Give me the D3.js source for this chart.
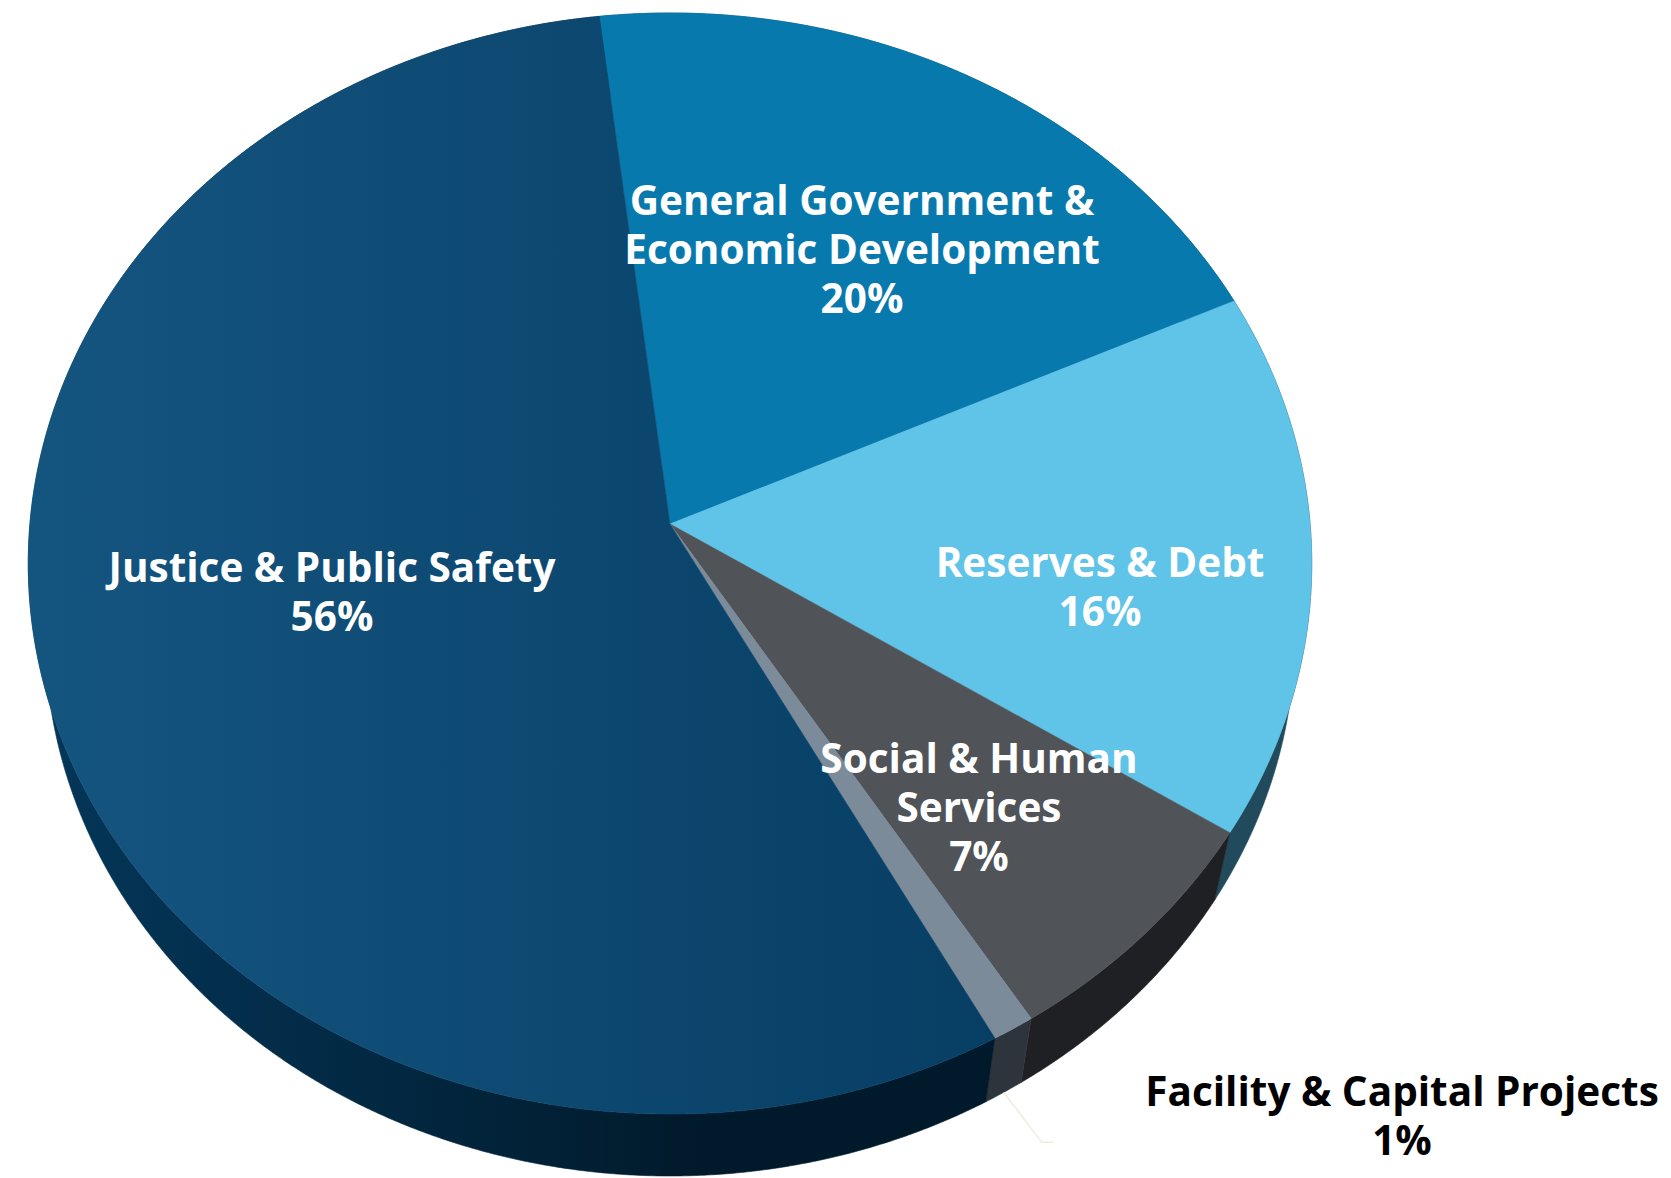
<!DOCTYPE html>
<html>
<head>
<meta charset="utf-8">
<script src="https://cdn.jsdelivr.net/npm/d3@7"></script>
<style>
  html, body { margin: 0; padding: 0; background: #fff; }
  svg { display: block; }
</style>
</head>
<body>
<script>

// slices in clockwise order, starting just left of 12 o'clock
var categories = ["General Government & Economic Development", "Reserves & Debt",
                  "Social & Human Services", "Facility & Capital Projects",
                  "Justice & Public Safety"];
var values = [20, 16, 7, 1, 56];
var labelLines = [["General Government &", "Economic Development"],
                  ["Reserves & Debt"],
                  ["Social & Human", "Services"],
                  ["Facility & Capital Projects"],
                  ["Justice & Public Safety"]];

var topColors  = ["#0779ad", "#60c3e8", "#505458", "#7b8b9a", "url(#justiceTop)"];
var sideColors = ["#064f73", "#214b5d", "#1f2023", "#2d343c", "url(#justiceSide)"];
var labelColors = ["#fff", "#fff", "#fff", "#000", "#fff"];

// where each label block sits (first baseline)
var labelPos = [[862, 215], [1100, 577], [979, 773], [1402, 1106], [332, 582]];

var W = 1671, H = 1178;

// fake perspective camera for the tilted disc
var cx = 670, cy = 524;
var S = 4615, D = 7.21;
var tilt = 58.83 * Math.PI / 180;
var depth = 0.2265;
var sn = Math.sin(tilt), cs = Math.cos(tilt);
var startAngle = -6.8 * Math.PI / 180;

function proj(t, r, yv) {
    var x = r * Math.sin(t), z = -r * Math.cos(t);
    var d = D - z * cs - yv * sn;
    return [cx + S * x / d, cy + S * (z * sn - yv * cs) / d];
}

function rim(a0, a1, yv) {
    var n = Math.max(2, Math.ceil((a1 - a0) / 0.005));
    var pts = [];
    for (var i = 0; i <= n; i++) {
        pts.push(proj(a0 + (a1 - a0) * i / n, 1, yv));
    }
    return pts;
}

var svg = d3.select("body").append("svg").attr("width", W).attr("height", H);

var defs = svg.append("defs");
var g1 = defs.append("linearGradient").attr("id", "justiceTop")
    .attr("gradientUnits", "userSpaceOnUse")
    .attr("x1", 30).attr("y1", 0).attr("x2", 1000).attr("y2", 0);
g1.append("stop").attr("offset", 0).attr("stop-color", "#145580");
g1.append("stop").attr("offset", 1).attr("stop-color", "#073e64");
var g2 = defs.append("linearGradient").attr("id", "justiceSide")
    .attr("gradientUnits", "userSpaceOnUse")
    .attr("x1", 30).attr("y1", 0).attr("x2", 700).attr("y2", 0);
g2.append("stop").attr("offset", 0).attr("stop-color", "#04375a");
g2.append("stop").attr("offset", 1).attr("stop-color", "#011a2b");

var data = categories.map(function (c, i) { return { name: c, value: values[i], i: i }; });

var pie = d3.pie().sort(null).value(function (d) { return d.value; })
    .startAngle(startAngle).endAngle(startAngle + 2 * Math.PI);
var arcs = pie(data);

var line = d3.line().curve(d3.curveLinearClosed);

// outer walls first
svg.append("g").selectAll("path").data(arcs).join("path")
    .attr("d", function (a) {
        var top = rim(a.startAngle, a.endAngle, 0);
        var bot = rim(a.startAngle, a.endAngle, -depth).reverse();
        return line(top.concat(bot));
    })
    .attr("fill", function (a) { return sideColors[a.data.i]; })
    .attr("stroke", function (a) { return sideColors[a.data.i]; })
    .attr("stroke-width", 0.6);

// top faces
svg.append("g").selectAll("path").data(arcs).join("path")
    .attr("d", function (a) {
        return line([proj(0, 0, 0)].concat(rim(a.startAngle, a.endAngle, 0)));
    })
    .attr("fill", function (a) { return topColors[a.data.i]; })
    .attr("stroke", function (a) { return topColors[a.data.i]; })
    .attr("stroke-width", 0.6);

// leader line for the thin slice
var fac = arcs[3];
var p0 = proj((fac.startAngle + fac.endAngle) / 2, 1, -depth);
svg.append("polyline")
    .attr("points", [p0, [p0[0] + 38, p0[1] + 50], [p0[0] + 50, p0[1] + 50]].join(" "))
    .attr("fill", "none").attr("stroke", "#eeede2").attr("stroke-width", 1.5);

// labels
var lineH = 49;
arcs.forEach(function (a) {
    var i = a.data.i;
    var lines = labelLines[i].concat([a.data.value + "%"]);
    var t = svg.append("text")
        .attr("x", labelPos[i][0]).attr("y", labelPos[i][1])
        .attr("text-anchor", "middle")
        .attr("font-family", "'Open Sans', Lato, sans-serif")
        .attr("font-weight", 700)
        .attr("font-size", 40.5)
        .attr("fill", labelColors[i]);
    lines.forEach(function (s, k) {
        t.append("tspan").attr("x", labelPos[i][0]).attr("dy", k === 0 ? 0 : lineH).text(s);
    });
});

</script>
</body>
</html>
